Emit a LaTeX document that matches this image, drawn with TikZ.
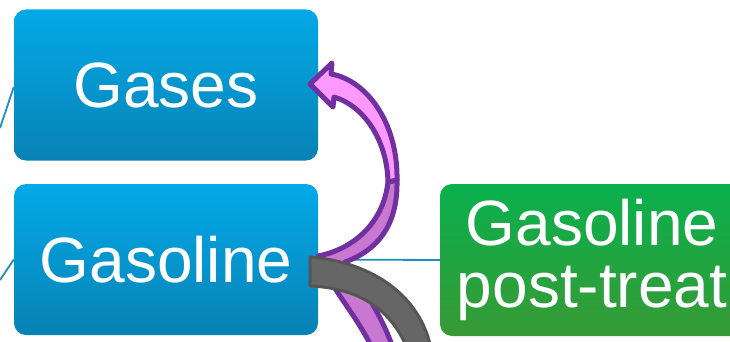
\documentclass[tikz,border=0pt]{standalone}
\usepackage{fontspec}
\setmainfont{Liberation Sans}
\definecolor{bluetop}{HTML}{03A9E8}
\definecolor{bluebot}{HTML}{0882B4}
\definecolor{greentop}{HTML}{0AB04E}
\definecolor{greenbot}{HTML}{379A35}
\definecolor{linkblue}{HTML}{1E8EBF}
\definecolor{purpleline}{HTML}{7030A0}
\definecolor{pinkfill}{HTML}{FF99FF}
\definecolor{backfill}{HTML}{C878D0}
\definecolor{grayfill}{HTML}{666666}
\definecolor{grayline}{HTML}{555555}
\begin{document}
\begin{tikzpicture}[x=1pt,y=-1pt,
  bluebox/.style={rounded corners=12pt, top color=bluetop, bottom color=bluebot,
    minimum width=304pt, minimum height=151pt, inner sep=0pt, text=white,
    font=\fontsize{64}{57}\selectfont},
  greenbox/.style={rounded corners=12pt, top color=greentop, bottom color=greenbot,
    minimum width=304pt, minimum height=152pt, inner sep=0pt, text=white, align=center,
    font=\fontsize{64}{62}\selectfont},
  link/.style={draw=linkblue, line width=1.8pt},
  ribbon/.style={draw=purpleline, line width=5pt, line join=round}]
\useasboundingbox (0,0) rectangle (730,342);
\coordinate (la) at (0,128);
\coordinate (lb) at (0,280);
\node[bluebox] (gases) at (166,85) {Gases};
\node[bluebox] (gasoline) at (166,259.5) {Gasoline};
\node[greenbox] (post) at (592,260) {Gasoline\\post-treat};
\draw[link] (la) -- ([yshift=-2pt]gases.west);
\draw[link] (lb) -- (gasoline.west);
\draw[link] (gasoline.east) -- (post.west);
% back of ribbon
\path[ribbon, fill=backfill]
  (318,256) .. controls (350,250) and (383,226) .. (388,182)
  -- (397,180) .. controls (398,225) and (378,250) .. (345,262)
  .. controls (362,286) and (382,316) .. (393,348)
  -- (372,348) .. controls (356,314) and (330,288) .. cycle;
% gray band
\path[draw=grayline, fill=grayfill, line width=3pt, line join=round]
  (310,257) .. controls (362,261) and (418,288) .. (431,348)
  -- (407,348) .. controls (392,312) and (362,288) .. (310,286) -- cycle;
% front of ribbon with head
\path[ribbon, fill=pinkfill]
  (397,180) .. controls (398,122) and (366,80) .. (331,74)
  -- (332,63) -- (310,84) -- (333,107) -- (334,97)
  .. controls (364,106) and (387,140) .. (388,182) -- cycle;
\end{tikzpicture}
\end{document}
